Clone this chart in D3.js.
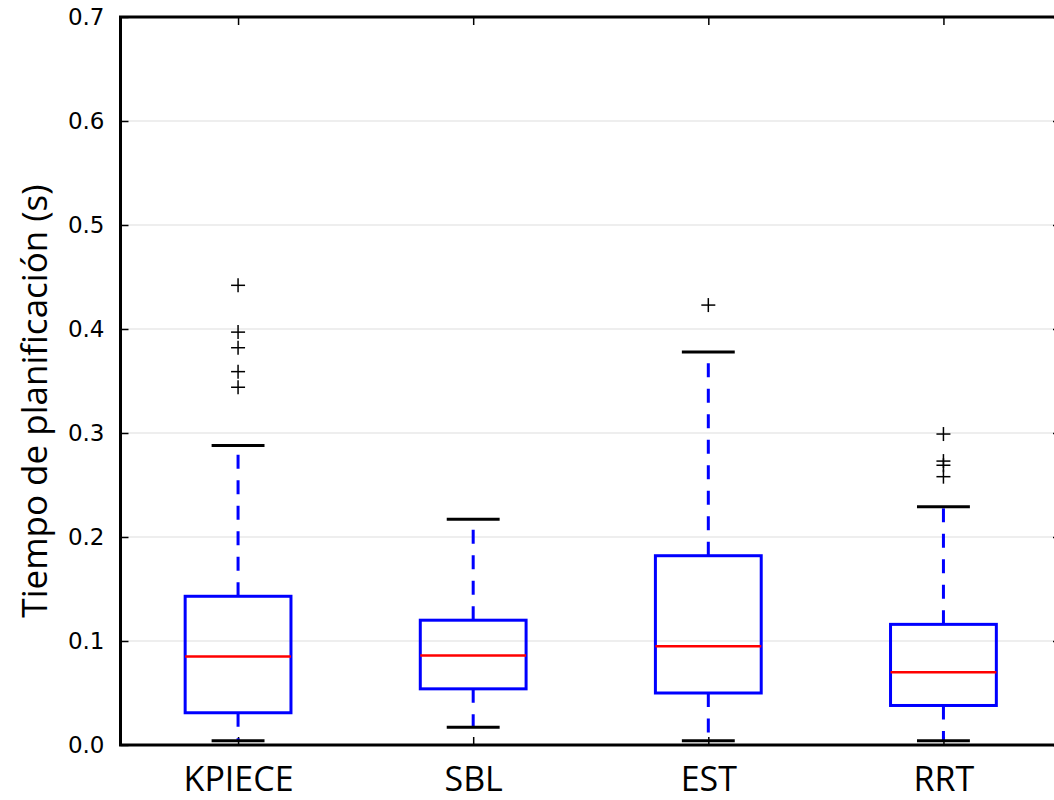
<!DOCTYPE html>
<html lang="es">
<head>
    <meta charset="UTF-8">
    <title>Tiempo de planificación</title>
    <script src="https://cdnjs.cloudflare.com/ajax/libs/d3/7.8.2/d3.min.js"></script>
    <style>
        body {
            margin: 0;
            padding: 0;
            background: #fff;
            overflow: hidden;
        }
        .tick-label {
            font-family: "DejaVu Sans", sans-serif;
            font-size: 23px;
            fill: #000;
        }
        .cat-label {
            font-family: "Open Sans", sans-serif;
            font-size: 34px;
            fill: #000;
        }
        .y-title {
            font-family: "Open Sans", sans-serif;
            font-size: 35px;
            fill: #000;
        }
    </style>
</head>
<body>
    <div id="chart"></div>

    <script>
        // Data
        const categories = ["KPIECE", "SBL", "EST", "RRT"];
        const whiskerLow = [0.004, 0.017, 0.004, 0.004];
        const q1 = [0.031, 0.054, 0.050, 0.038];
        const medians = [0.085, 0.086, 0.095, 0.070];
        const q3 = [0.143, 0.120, 0.182, 0.116];
        const whiskerHigh = [0.288, 0.217, 0.378, 0.229];
        const outliers = [
            [0.442, 0.397, 0.382, 0.359, 0.344],
            [],
            [0.423],
            [0.299, 0.273, 0.269, 0.258]
        ];
        const yTicks = [0.0, 0.1, 0.2, 0.3, 0.4, 0.5, 0.6, 0.7];

        const width = 1054;
        const height = 800;
        const plot = { left: 120.5, top: 17, right: 1061, bottom: 745 };

        const svg = d3.select("#chart")
            .append("svg")
            .attr("width", width)
            .attr("height", height);

        const x = d3.scaleLinear()
            .domain([0.5, categories.length + 0.5])
            .range([plot.left, plot.right]);

        const y = d3.scaleLinear()
            .domain([0, 0.7])
            .range([plot.bottom, plot.top]);

        const boxW = x(1.45) - x(1);      // matplotlib default width 0.45
        const capW = boxW / 2;

        // grid lines
        svg.append("g")
            .selectAll("line")
            .data(yTicks.slice(1, -1))
            .enter()
            .append("line")
            .attr("x1", plot.left)
            .attr("x2", plot.right)
            .attr("y1", d => y(d))
            .attr("y2", d => y(d))
            .attr("stroke", "#e8e8e8")
            .attr("stroke-width", 1.5);

        // y axis ticks (inward, both sides)
        const yAxisL = d3.axisLeft(y).tickValues(yTicks).tickSize(-8).tickPadding(16)
            .tickFormat(d3.format(".1f"));
        const gy = svg.append("g")
            .attr("transform", `translate(${plot.left},0)`)
            .call(yAxisL);
        gy.select(".domain").remove();
        gy.selectAll("line").attr("stroke", "#000").attr("stroke-width", 1.5);
        gy.selectAll("text").attr("class", "tick-label").attr("font-size", null).attr("font-family", null);

        const gyR = svg.append("g")
            .attr("transform", `translate(${plot.right},0)`)
            .call(d3.axisRight(y).tickValues(yTicks).tickSize(-8).tickFormat(""));
        gyR.select(".domain").remove();
        gyR.selectAll("line").attr("stroke", "#000").attr("stroke-width", 1.5);

        // x axis ticks (inward, bottom and top)
        const xIdx = categories.map((c, i) => i + 1);
        const gx = svg.append("g")
            .attr("transform", `translate(0,${plot.bottom})`)
            .call(d3.axisBottom(x).tickValues(xIdx).tickSize(-8).tickPadding(22)
                .tickFormat(d => categories[d - 1]));
        gx.select(".domain").remove();
        gx.selectAll("line").attr("stroke", "#000").attr("stroke-width", 1.5);
        gx.selectAll("text").attr("class", "cat-label").attr("font-size", null)
            .attr("font-family", null).attr("dy", "0.71em");

        const gxT = svg.append("g")
            .attr("transform", `translate(0,${plot.top})`)
            .call(d3.axisTop(x).tickValues(xIdx).tickSize(-8).tickFormat(""));
        gxT.select(".domain").remove();
        gxT.selectAll("line").attr("stroke", "#000").attr("stroke-width", 1.5);

        // boxes
        const box = svg.append("g")
            .selectAll("g")
            .data(categories)
            .enter()
            .append("g");

        // whiskers (dashed blue)
        box.append("line")
            .attr("x1", (d, i) => x(i + 1))
            .attr("x2", (d, i) => x(i + 1))
            .attr("y1", (d, i) => y(q1[i]))
            .attr("y2", (d, i) => y(whiskerLow[i]))
            .attr("stroke", "#0000ff")
            .attr("stroke-width", 3)
            .attr("stroke-dasharray", "14,11.5");
        box.append("line")
            .attr("x1", (d, i) => x(i + 1))
            .attr("x2", (d, i) => x(i + 1))
            .attr("y1", (d, i) => y(q3[i]))
            .attr("y2", (d, i) => y(whiskerHigh[i]))
            .attr("stroke", "#0000ff")
            .attr("stroke-width", 3)
            .attr("stroke-dasharray", "14,11.5");

        // caps
        [whiskerLow, whiskerHigh].forEach(arr => {
            box.append("line")
                .attr("x1", (d, i) => x(i + 1) - capW / 2)
                .attr("x2", (d, i) => x(i + 1) + capW / 2)
                .attr("y1", (d, i) => y(arr[i]))
                .attr("y2", (d, i) => y(arr[i]))
                .attr("stroke", "#000")
                .attr("stroke-width", 3);
        });

        box.append("rect")
            .attr("x", (d, i) => x(i + 1) - boxW / 2)
            .attr("y", (d, i) => y(q3[i]))
            .attr("width", boxW)
            .attr("height", (d, i) => y(q1[i]) - y(q3[i]))
            .attr("fill", "none")
            .attr("stroke", "#0000ff")
            .attr("stroke-width", 3);

        box.append("line")
            .attr("x1", (d, i) => x(i + 1) - boxW / 2)
            .attr("x2", (d, i) => x(i + 1) + boxW / 2)
            .attr("y1", (d, i) => y(medians[i]))
            .attr("y2", (d, i) => y(medians[i]))
            .attr("stroke", "#ff0000")
            .attr("stroke-width", 2.5);

        // outliers as '+'
        const flier = svg.append("g")
            .selectAll("g")
            .data(outliers.flatMap((vals, i) => vals.map(v => ({ i: i, v: v }))))
            .enter()
            .append("g")
            .attr("transform", d => `translate(${x(d.i + 1)},${y(d.v)})`);
        flier.append("line").attr("x1", -7).attr("x2", 7)
            .attr("stroke", "#000").attr("stroke-width", 1.5);
        flier.append("line").attr("y1", -7).attr("y2", 7)
            .attr("stroke", "#000").attr("stroke-width", 1.5);

        // frame
        svg.append("rect")
            .attr("x", plot.left)
            .attr("y", plot.top)
            .attr("width", plot.right - plot.left)
            .attr("height", plot.bottom - plot.top)
            .attr("fill", "none")
            .attr("stroke", "#000")
            .attr("stroke-width", 3);

        // y title
        svg.append("text")
            .attr("class", "y-title")
            .attr("transform", `translate(47,401) rotate(-90)`)
            .attr("text-anchor", "middle")
            .text("Tiempo de planificación (s)");
    </script>
</body>
</html>
